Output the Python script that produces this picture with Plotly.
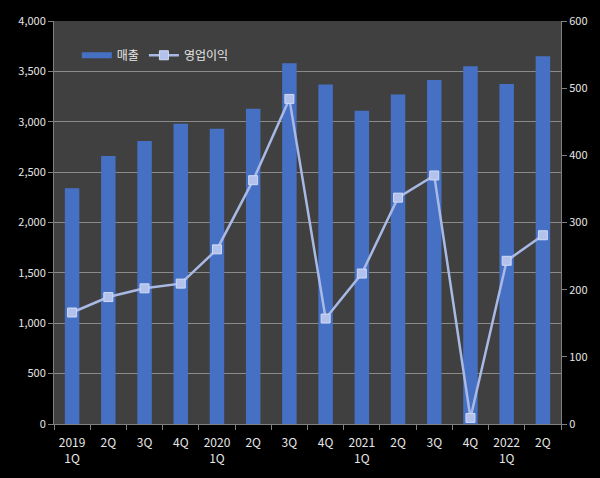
import plotly.graph_objects as go

quarters = ["2019<br>1Q", "2Q", "3Q", "4Q", "2020<br>1Q", "2Q", "3Q", "4Q",
            "2021<br>1Q", "2Q", "3Q", "4Q", "2022<br>1Q", "2Q"]
sales = [2340, 2660, 2810, 2980, 2930, 3130, 3580, 3370, 3110, 3270, 3415, 3550, 3375, 3650]
op_profit = [166, 189, 202, 209, 260, 363, 484, 157, 224, 337, 370, 9, 243, 281]

xs = list(range(len(quarters)))
bar_col = "#4670c4"

fig = go.Figure()
fig.add_trace(go.Bar(
    x=xs, y=sales, name="매출", width=0.4, showlegend=False,
    marker=dict(color=bar_col, line=dict(width=0)),
))
# legend-only entry to draw the bar key as a wide flat rectangle
fig.add_trace(go.Scatter(
    x=[None], y=[None], name="매출", mode="lines",
    line=dict(color=bar_col, width=6),
))
fig.add_trace(go.Scatter(
    x=xs, y=op_profit, name="영업이익", yaxis="y2", mode="lines+markers",
    line=dict(color="#a9b9e6", width=2.5),
    marker=dict(symbol="square", size=9, color="#b3c2ec", line=dict(color="#d0dbf5", width=1)),
))

font_col = "#e6e6e6"
fig.update_layout(
    width=600, height=478,
    paper_bgcolor="#000000", plot_bgcolor="#404040",
    margin=dict(l=54, r=39, t=15, b=53),
    font=dict(family="Noto Sans CJK KR, Noto Sans, sans-serif", color=font_col, size=11),
    showlegend=True,
    legend=dict(orientation="h", x=0.045, y=0.915, xanchor="left", yanchor="middle",
                bgcolor="rgba(0,0,0,0)", font=dict(size=12, color=font_col),
                itemwidth=30, tracegroupgap=0),
    bargap=0.6,
    xaxis=dict(
        range=[-0.5, len(quarters) - 0.5],
        tickmode="array", tickvals=xs, ticktext=quarters, ticks="",
        ticklabelstandoff=8,
        showgrid=False, zeroline=False, showline=True, linecolor="#808080",
        tickfont=dict(size=12, color=font_col),
        minor=dict(tickmode="array", tickvals=[i - 0.5 for i in range(len(quarters) + 1)],
                   ticks="outside", ticklen=5, tickcolor="#808080", showgrid=False),
    ),
    yaxis=dict(
        range=[0, 4000], dtick=500, tickformat=",", showgrid=True, gridcolor="#8a8a8a",
        gridwidth=1, zeroline=False, showline=True, linecolor="#808080",
        ticks="outside", ticklen=5, tickcolor="#808080", tickfont=dict(size=11, color=font_col),
    ),
    yaxis2=dict(
        range=[0, 600], dtick=100, overlaying="y", side="right", showgrid=False,
        zeroline=False, showline=True, linecolor="#808080",
        ticks="outside", ticklen=5, tickcolor="#808080", tickfont=dict(size=11, color=font_col),
    ),
)

fig.write_html("out.html")
